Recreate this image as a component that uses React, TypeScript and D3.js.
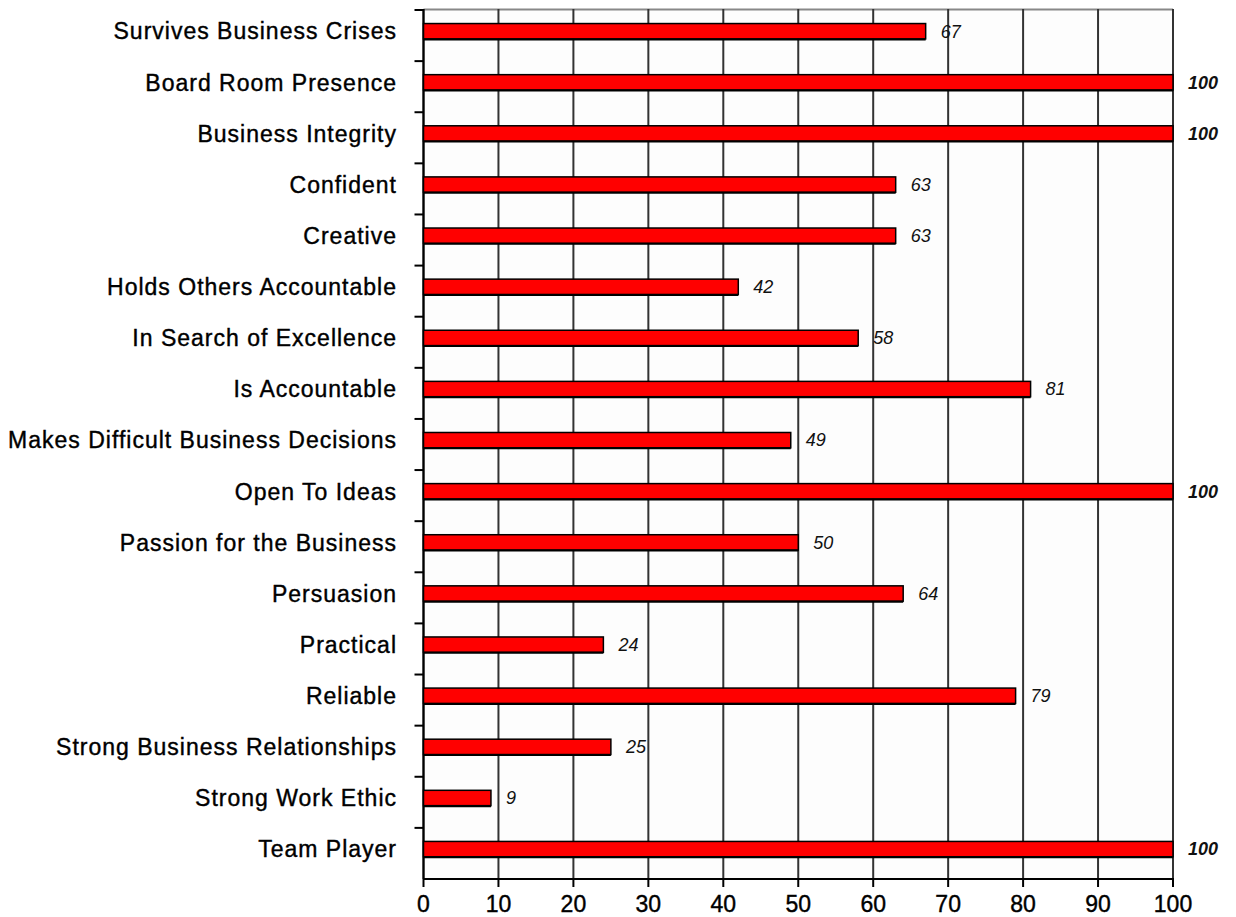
import React from "react";
import * as d3 from "d3";

const categories = [
  "Survives Business Crises",
  "Board Room Presence",
  "Business Integrity",
  "Confident",
  "Creative",
  "Holds Others Accountable",
  "In Search of Excellence",
  "Is Accountable",
  "Makes Difficult Business Decisions",
  "Open To Ideas",
  "Passion for the Business",
  "Persuasion",
  "Practical",
  "Reliable",
  "Strong Business Relationships",
  "Strong Work Ethic",
  "Team Player",
];
const values = [67, 100, 100, 63, 63, 42, 58, 81, 49, 100, 50, 64, 24, 79, 25, 9, 100];
const xTicks = [0, 10, 20, 30, 40, 50, 60, 70, 80, 90, 100];

const W = 1236;
const H = 917;
const left = 423.5;
const right = 1173;
const top = 10;
const bottom = 879;

export default function App() {
  const x = d3.scaleLinear().domain([0, 100]).range([left, right]);
  const y = d3.scaleBand<string>().domain(categories).range([top, bottom]).paddingInner(0);
  const bw = y.bandwidth();
  const barOff = bw * 0.265;
  const barH = bw * 0.3;
  const font = "Arial, 'Liberation Sans', sans-serif";
  const bounds = categories.map((c) => y(c) as number).concat([bottom]);

  return (
    <svg width={W} height={H} style={{ position: "absolute", left: 0, top: 0, background: "#fff" }}>
      <rect x={left} y={top} width={right - left} height={bottom - top} fill="#fdfdfd" />
      <line x1={left} x2={right} y1={top - 0.5} y2={top - 0.5} stroke="#888" strokeWidth={2} />
      {xTicks.map((t) => (
        <line key={"g" + t} x1={x(t)} x2={x(t)} y1={top - 1} y2={bottom} stroke="#333" strokeWidth={2} />
      ))}
      {bounds.slice(0, -1).map((b, i) => (
        <line key={"lt" + i} x1={left - 9} x2={left} y1={b} y2={b} stroke="#000" strokeWidth={2} />
      ))}
      <line x1={left} x2={left} y1={top - 1} y2={bottom} stroke="#000" strokeWidth={2} />
      <line x1={left} x2={right + 1} y1={bottom} y2={bottom} stroke="#000" strokeWidth={2} />
      {xTicks.map((t) => (
        <line key={"bt" + t} x1={x(t)} x2={x(t)} y1={bottom} y2={bottom + 8} stroke="#000" strokeWidth={2} />
      ))}
      {xTicks.map((t) => (
        <text
          key={"tl" + t}
          x={x(t)}
          y={912}
          textAnchor="middle"
          fontFamily={font}
          fontSize={23}
          fill="#000"
          stroke="#000"
          strokeWidth={0.4}
        >
          {t}
        </text>
      ))}
      {categories.map((c, i) => {
        const by = (y(c) as number) + barOff;
        const bx = x(values[i]);
        return (
          <g key={c}>
            <rect x={left} y={by} width={bx - left} height={barH} fill="#ff0000" stroke="#000" strokeWidth={1.5} />
            <line x1={left} x2={bx} y1={by + barH + 0.5} y2={by + barH + 0.5} stroke="#000" strokeWidth={2} />
            <text
              x={bx + 15}
              y={by + barH / 2}
              dy="0.35em"
              fontFamily={font}
              fontStyle="italic"
              fontWeight={values[i] === 100 ? "bold" : "normal"}
              fontSize={18}
              fill="#111"
            >
              {values[i]}
            </text>
            <text
              x={397}
              y={by + barH / 2}
              dy="0.36em"
              textAnchor="end"
              fontFamily={font}
              fontSize={23}
              letterSpacing={1}
              fill="#000"
              stroke="#000"
              strokeWidth={0.4}
            >
              {c}
            </text>
          </g>
        );
      })}
    </svg>
  );
}
